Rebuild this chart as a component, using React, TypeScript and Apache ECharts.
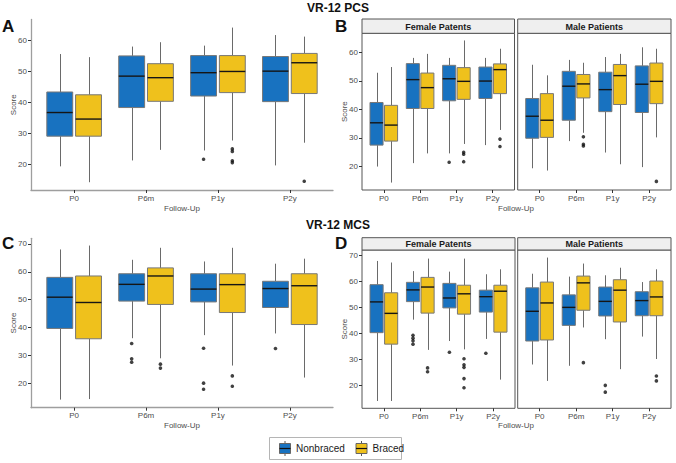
import React, { useEffect, useRef } from 'react';
import * as echarts from 'echarts';

const categories = ['P0', 'P6m', 'P1y', 'P2y'];
const yTicksPCS = [20, 30, 40, 50, 60];
const yTicksMCS = [20, 30, 40, 50, 60, 70];
const groupNames = ['Nonbraced', 'Braced'];
const facetNames = ['Female Patents', 'Male Patients'];

// box stats per category: [min, q1, median, q3, max]
// Panel A: VR-12 PCS, all patients
const pcsAllNonbraced = [[19.4, 29.1, 36.7, 43.3, 55.5], [21.3, 38.3, 48.4, 54.9, 57.9], [24.5, 42.0, 49.5, 55.0, 58.2], [19.7, 40.2, 50.0, 54.7, 61.6]];
const pcsAllBraced = [[14.3, 29.1, 34.6, 42.4, 54.5], [24.7, 40.3, 47.9, 52.4, 59.3], [27.7, 43.1, 49.9, 55.0, 64.0], [27.0, 42.8, 52.7, 55.7, 61.1]];
const pcsAllNonbracedOut = [[2, 21.7]];
const pcsAllBracedOut = [[2, 25.0], [2, 24.2], [2, 21.2], [2, 20.6], [3, 14.6]];

// Panel B: VR-12 PCS by sex
const pcsFemaleNonbraced = [[20.0, 27.5, 35.3, 42.4, 52.8], [21.2, 40.3, 50.4, 56.0, 58.0], [24.6, 43.0, 50.7, 55.4, 58.0], [27.5, 43.8, 49.9, 54.8, 58.0]];
const pcsFemaleBraced = [[14.4, 28.9, 34.5, 41.4, 54.8], [24.6, 40.3, 47.6, 52.7, 59.4], [27.9, 43.5, 49.8, 54.6, 64.1], [32.8, 45.5, 53.9, 55.9, 61.2]];
const pcsFemaleNonbracedOut = [[2, 21.5]];
const pcsFemaleBracedOut = [[2, 25.0], [2, 24.3], [2, 21.7], [3, 29.6], [3, 27.0]];
const pcsMaleNonbraced = [[19.4, 29.9, 37.6, 43.8, 55.6], [28.9, 36.2, 48.1, 53.3, 57.3], [24.9, 39.2, 46.9, 53.0, 58.3], [19.8, 38.9, 48.8, 55.2, 61.7]];
const pcsMaleBraced = [[18.6, 30.2, 36.2, 45.5, 51.9], [31.8, 44.0, 48.9, 52.2, 56.3], [20.8, 41.7, 51.8, 55.7, 59.4], [30.2, 42.0, 49.8, 56.2, 61.2]];
const pcsMaleNonbracedOut: number[][] = [];
const pcsMaleBracedOut = [[1, 30.4], [1, 27.8], [1, 27.2], [3, 14.8]];

// Panel C: VR-12 MCS, all patients
const mcsAllNonbraced = [[14.2, 39.7, 50.9, 58.0, 68.0], [36.2, 49.5, 55.5, 59.3, 64.3], [37.3, 49.2, 53.8, 59.3, 63.7], [37.9, 47.2, 54.0, 56.6, 62.9]];
const mcsAllBraced = [[14.4, 36.0, 49.0, 58.5, 69.4], [29.0, 48.3, 58.5, 61.4, 68.6], [26.4, 45.4, 55.4, 59.3, 68.6], [22.1, 41.1, 55.0, 59.3, 64.7]];
const mcsAllNonbracedOut = [[1, 34.3], [1, 28.8], [1, 27.6], [2, 32.6], [2, 20.1], [2, 17.9], [3, 32.5]];
const mcsAllBracedOut = [[1, 26.9], [1, 25.5], [2, 22.7], [2, 19.0]];

// Panel D: VR-12 MCS by sex
const mcsFemaleNonbraced = [[14.1, 40.3, 52.1, 58.7, 67.8], [45.3, 52.2, 56.7, 59.6, 63.9], [37.1, 49.8, 53.6, 59.2, 63.7], [37.9, 48.2, 54.1, 56.6, 62.7]];
const mcsFemaleBraced = [[14.1, 35.9, 47.7, 55.6, 67.2], [33.7, 47.8, 57.8, 61.5, 68.7], [33.9, 47.4, 55.2, 58.5, 68.7], [22.3, 40.5, 56.2, 58.5, 64.6]];
const mcsFemaleNonbracedOut = [[1, 39.3], [1, 38.2], [1, 37.2], [1, 35.9], [2, 32.8], [3, 32.4]];
const mcsFemaleBracedOut = [[1, 26.8], [1, 25.3], [2, 30.3], [2, 28.0], [2, 27.0], [2, 22.7], [2, 19.2]];
const mcsMaleNonbraced = [[28.1, 37.1, 48.5, 57.5, 62.9], [27.6, 43.1, 50.0, 54.8, 61.8], [37.8, 46.7, 52.3, 57.8, 62.3], [38.8, 46.8, 52.6, 56.0, 59.7]];
const mcsMaleBraced = [[21.8, 37.5, 51.7, 59.7, 69.1], [42.3, 48.9, 59.4, 62.0, 66.8], [26.3, 44.4, 56.6, 60.6, 65.2], [30.2, 46.8, 54.0, 60.1, 64.6]];
const mcsMaleNonbracedOut = [[2, 20.1], [2, 17.5]];
const mcsMaleBracedOut = [[1, 28.8], [3, 23.7], [3, 21.8]];
// significance marker (category index, score)
const mcsMaleSignificance = [[1, 65.0]];

const BLUE = '#1872c0';
const YELLOW = '#efc11c';
const FONT = '"Liberation Sans", Arial, sans-serif';
const LABEL_COLOR = '#4d4d4d';

function boxSeries(axisIndex: number, stats: number[][], offset: number, fill: string, name: string) {
  return {
    type: 'custom',
    name,
    xAxisIndex: axisIndex,
    yAxisIndex: axisIndex,
    data: stats.map((s, i) => [i, ...s]),
    encode: { x: 0, y: [1, 2, 3, 4, 5] },
    z: 3,
    renderItem: (params: any, api: any) => {
      const x = api.value(0) + offset;
      const pMin = api.coord([x, api.value(1)]);
      const pQ1 = api.coord([x, api.value(2)]);
      const pMed = api.coord([x, api.value(3)]);
      const pQ3 = api.coord([x, api.value(4)]);
      const pMax = api.coord([x, api.value(5)]);
      const hw = api.size([0.18, 0])[0];
      const cx = Math.round(pMin[0]) + 0.5;
      return {
        type: 'group',
        children: [
          { type: 'line', shape: { x1: cx, y1: pMin[1], x2: cx, y2: pQ1[1] }, style: { stroke: '#6a6a6a', lineWidth: 1 } },
          { type: 'line', shape: { x1: cx, y1: pQ3[1], x2: cx, y2: pMax[1] }, style: { stroke: '#6a6a6a', lineWidth: 1 } },
          { type: 'rect', shape: { x: pQ3[0] - hw, y: pQ3[1], width: hw * 2, height: pQ1[1] - pQ3[1] }, style: { fill, stroke: '#777777', lineWidth: 1 } },
          { type: 'line', shape: { x1: pMed[0] - hw, y1: pMed[1], x2: pMed[0] + hw, y2: pMed[1] }, style: { stroke: '#151515', lineWidth: 1.4 } },
        ],
      };
    },
  };
}

function outlierSeries(axisIndex: number, pts: number[][], offset: number) {
  return {
    type: 'scatter',
    xAxisIndex: axisIndex,
    yAxisIndex: axisIndex,
    data: pts.map(([c, v]) => [c + offset, v]),
    symbolSize: 3.6,
    itemStyle: { color: '#111' },
    z: 4,
  };
}

function xAxisFor(gridIndex: number, facet: boolean, name: string) {
  return {
    type: 'value',
    gridIndex,
    min: -0.6,
    max: 3.6,
    splitLine: { show: false },
    axisLine: { show: !facet, onZero: false, lineStyle: { color: '#9e9e9e', width: 1.3 } },
    axisTick: { show: true, customValues: [0, 1, 2, 3], length: 3, lineStyle: { color: '#333' } },
    axisLabel: {
      customValues: [0, 1, 2, 3],
      formatter: (v: number) => categories[Math.round(v)] ?? '',
      fontSize: 8,
      color: LABEL_COLOR,
      margin: 4,
      fontFamily: FONT,
    },
    name,
    nameLocation: 'middle',
    nameGap: 14,
    nameTextStyle: { fontSize: 8, color: LABEL_COLOR, fontFamily: FONT },
  };
}

function yAxisFor(gridIndex: number, min: number, max: number, ticks: number[], mode: 'classic' | 'facetLeft' | 'facetRight') {
  const showLabels = mode !== 'facetRight';
  return {
    type: 'value',
    gridIndex,
    min,
    max,
    splitLine: { show: false },
    axisLine: { show: mode === 'classic', onZero: false, lineStyle: { color: '#9e9e9e', width: 1.3 } },
    axisTick: { show: showLabels, customValues: ticks, length: 3, lineStyle: { color: '#333' } },
    axisLabel: { show: showLabels, customValues: ticks, fontSize: 8, color: LABEL_COLOR, margin: 4, fontFamily: FONT },
    name: showLabels ? 'Score' : '',
    nameLocation: 'middle',
    nameGap: 14,
    nameMoveOverlap: false,
    nameTextStyle: { fontSize: 8, color: LABEL_COLOR, fontFamily: FONT },
  };
}

const grids = [
  { left: 31, top: 19.5, width: 302, height: 170.5 },
  { left: 362, top: 33.3, width: 152.5, height: 156.7, facet: true },
  { left: 517.7, top: 33.3, width: 153.3, height: 156.7, facet: true },
  { left: 31, top: 238.3, width: 302, height: 169.4 },
  { left: 362, top: 250, width: 153, height: 158.3, facet: true },
  { left: 517.7, top: 250, width: 153.3, height: 158.3, facet: true },
];

function strip(x: number, y: number, w: number, h: number, text: string) {
  return {
    type: 'group',
    children: [
      { type: 'rect', shape: { x, y, width: w, height: h }, style: { fill: '#efefef', stroke: '#555', lineWidth: 1 } },
      { type: 'text', x: x + w / 2, y: y + h / 2 + 0.5, style: { text, fontSize: 9, fontWeight: 'bold', fill: '#1a1a1a', align: 'center', verticalAlign: 'middle', fontFamily: FONT } },
    ],
  };
}

function textEl(x: number, y: number, text: string, size: number, bold: boolean, align = 'center', color = '#111') {
  return { type: 'text', x, y, style: { text, fontSize: size, fontWeight: bold ? 'bold' : 'normal', fill: color, align, verticalAlign: 'middle', fontFamily: FONT } };
}

function legendKey(x: number, y: number, fill: string) {
  return {
    type: 'group',
    children: [
      { type: 'line', shape: { x1: x + 5.5, y1: y - 7.5, x2: x + 5.5, y2: y + 7.5 }, style: { stroke: '#555', lineWidth: 1 } },
      { type: 'rect', shape: { x, y: y - 5, width: 11, height: 10 }, style: { fill, stroke: '#666', lineWidth: 1 } },
      { type: 'line', shape: { x1: x, y1: y, x2: x + 11, y2: y }, style: { stroke: '#111', lineWidth: 1.2 } },
    ],
  };
}

export default function App() {
  const ref = useRef<HTMLDivElement>(null);
  useEffect(() => {
    if (!ref.current) return;
    const chart = echarts.init(ref.current, undefined, { renderer: 'svg' });
    const series: any[] = [];
    const panels = [
      [pcsAllNonbraced, pcsAllBraced, pcsAllNonbracedOut, pcsAllBracedOut],
      [pcsFemaleNonbraced, pcsFemaleBraced, pcsFemaleNonbracedOut, pcsFemaleBracedOut],
      [pcsMaleNonbraced, pcsMaleBraced, pcsMaleNonbracedOut, pcsMaleBracedOut],
      [mcsAllNonbraced, mcsAllBraced, mcsAllNonbracedOut, mcsAllBracedOut],
      [mcsFemaleNonbraced, mcsFemaleBraced, mcsFemaleNonbracedOut, mcsFemaleBracedOut],
      [mcsMaleNonbraced, mcsMaleBraced, mcsMaleNonbracedOut, mcsMaleBracedOut],
    ];
    panels.forEach((p, i) => {
      series.push(boxSeries(i, p[0], -0.2, BLUE, groupNames[0]));
      series.push(boxSeries(i, p[1], 0.2, YELLOW, groupNames[1]));
      series.push(outlierSeries(i, p[2], -0.2));
      series.push(outlierSeries(i, p[3], 0.2));
    });
    series.push({
      type: 'scatter',
      xAxisIndex: 5,
      yAxisIndex: 5,
      data: mcsMaleSignificance,
      symbolSize: 1,
      itemStyle: { opacity: 0 },
      label: { show: true, position: 'inside', formatter: '*', fontSize: 17, color: '#222', fontFamily: FONT },
      z: 5,
    });

    const option: any = {
      animation: false,
      backgroundColor: '#ffffff',
      textStyle: { fontFamily: FONT },
      grid: grids.map((g) => ({
        left: g.left, top: g.top, width: g.width, height: g.height,
        show: !!g.facet, borderColor: '#555', borderWidth: 1, backgroundColor: 'transparent',
      })),
      xAxis: [
        xAxisFor(0, false, 'Follow-Up'),
        xAxisFor(1, true, ''),
        xAxisFor(2, true, ''),
        xAxisFor(3, false, 'Follow-Up'),
        xAxisFor(4, true, ''),
        xAxisFor(5, true, ''),
      ],
      yAxis: [
        yAxisFor(0, 11.8, 66.6, yTicksPCS, 'classic'),
        yAxisFor(1, 11.8, 66.6, yTicksPCS, 'facetLeft'),
        yAxisFor(2, 11.8, 66.6, yTicksPCS, 'facetRight'),
        yAxisFor(3, 11.3, 72.0, yTicksMCS, 'classic'),
        yAxisFor(4, 11.3, 72.0, yTicksMCS, 'facetLeft'),
        yAxisFor(5, 11.3, 72.0, yTicksMCS, 'facetRight'),
      ],
      series,
      graphic: [
        textEl(338, 7.5, 'VR-12 PCS', 12, true),
        textEl(338, 224.5, 'VR-12 MCS', 12, true),
        textEl(2, 26.5, 'A', 17, true, 'left'),
        textEl(335, 26.5, 'B', 17, true, 'left'),
        textEl(2, 243, 'C', 17, true, 'left'),
        textEl(335, 243, 'D', 17, true, 'left'),
        strip(362, 19, 152.5, 14.3, facetNames[0]),
        strip(517.7, 19, 153.3, 14.3, facetNames[1]),
        strip(362, 237.7, 153, 12.3, facetNames[0]),
        strip(517.7, 237.7, 153.3, 12.3, facetNames[1]),
        textEl(516, 208, 'Follow-Up', 8, false, 'center', LABEL_COLOR),
        textEl(516, 425.7, 'Follow-Up', 8, false, 'center', LABEL_COLOR),
        { type: 'rect', shape: { x: 269.5, y: 437.5, width: 132, height: 22 }, style: { fill: '#fff', stroke: '#b5b5b5', lineWidth: 1 } },
        legendKey(279.5, 448.5, BLUE),
        textEl(296, 448.5, groupNames[0], 10, false, 'left', '#1a1a1a'),
        legendKey(356, 448.5, YELLOW),
        textEl(372.5, 448.5, groupNames[1], 10, false, 'left', '#1a1a1a'),
      ],
    };
    chart.setOption(option);
    return () => chart.dispose();
  }, []);
  return <div ref={ref} style={{ position: 'absolute', left: 0, top: 0, width: 676, height: 463 }} />;
}
